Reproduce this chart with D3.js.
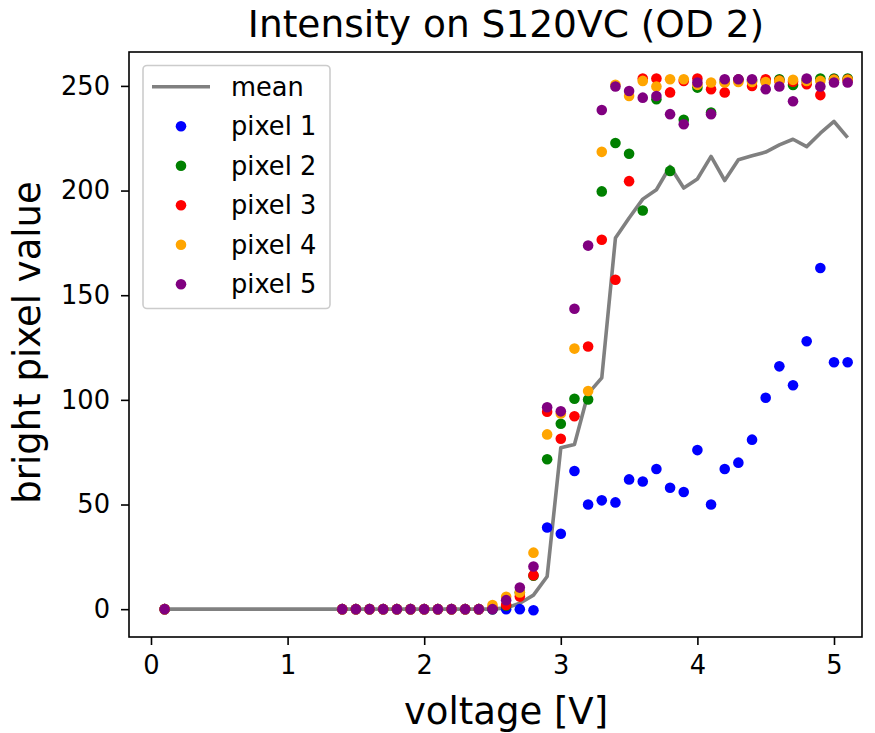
<!DOCTYPE html>
<html>
<head>
<meta charset="utf-8">
<script src="https://cdn.jsdelivr.net/npm/d3@7"></script>
<style>
  body { margin: 0; background: #fff; }
  svg { font-family: "DejaVu Sans", sans-serif; }
</style>
</head>
<body>
<div id="chart"></div>
<script>
// voltage steps [V]
const voltages = [0.1, 1.4, 1.5, 1.6, 1.7, 1.8, 1.9, 2.0, 2.1, 2.2, 2.3, 2.4, 2.5, 2.6, 2.7, 2.8, 2.9,
  3.0, 3.1, 3.2, 3.3, 3.4, 3.5, 3.6, 3.7, 3.8, 3.9, 4.0, 4.1, 4.2, 4.3, 4.4, 4.5, 4.6, 4.7, 4.8, 4.9, 5.0, 5.1]

const meanValues = [0, 0, 0, 0, 0, 0, 0, 0, 0, 0, 0, 0, 0, 0.6, 2.8, 6.7, 15.6,
  77.1, 78.7, 103, 110.5, 177.3, 186.9, 195.9, 200.4, 211.5, 201.2, 205.5, 216.3, 204.8, 214.7, 216.6, 218.4, 221.8, 224.5, 221, 227.4, 233, 225.3]

const pixel1 = [0, 0, 0, 0, 0, 0, 0, 0, 0, 0, 0, 0, 0, 0, 0, -0.5, 39,
  36, 66, 50, 52, 51, 62, 61, 67, 58, 56, 76, 50, 67, 70, 81, 101, 116, 107, 128, 163, 118, 118]
const pixel2 = [0, 0, 0, 0, 0, 0, 0, 0, 0, 0, 0, 0, 0, 1.6, 8, 16, 71.6,
  88.6, 100.5, 100.2, 199.6, 222.7, 217.6, 190.5, 243.6, 209.4, 233.8, 249.2, 237.3, 252, 253, 252.5, 252.5, 253.2, 250.4, 252.5, 253.5, 253.5, 253.5]
const pixel3 = [0, 0, 0, 0, 0, 0, 0, 0, 0, 0, 0, 0, 0.5, 2, 6, 16.2, 94.3,
  81.4, 92.2, 125.5, 176.5, 157.4, 204.5, 253.5, 253.5, 246.9, 252.4, 253.5, 248.4, 246.9, 253, 250, 253.2, 252.5, 252, 250.8, 245.6, 253, 253]
const pixel4 = [0, 0, 0, 0, 0, 0, 0, 0, 0, 0, 0, 0, 2, 5.9, 8, 27, 83.5,
  93.5, 124.5, 104.2, 218.5, 250.5, 245.2, 252.4, 249.7, 253.2, 253.2, 250.5, 251.6, 251.6, 251.9, 251.9, 251.9, 252.4, 252.9, 252.4, 252.4, 252.9, 252.9]
const pixel5 = [0, 0, 0, 0, 0, 0, 0, 0, 0, 0, 0, 0, 0, 4.3, 10.3, 20.4, 96.5,
  94.5, 143.5, 173.7, 238.5, 249.7, 247.6, 244.4, 245.2, 236.5, 231.7, 251.6, 236.5, 253.2, 253.2, 253.2, 248.4, 249.7, 242.7, 253.5, 249.7, 251.6, 251.6]

const seriesNames = ['pixel 1', 'pixel 2', 'pixel 3', 'pixel 4', 'pixel 5']
const seriesValues = [pixel1, pixel2, pixel3, pixel4, pixel5]
const seriesColors = ['blue', 'green', 'red', 'orange', 'purple']

const xTicks = [0, 1, 2, 3, 4, 5]
const yTicks = [0, 50, 100, 150, 200, 250]

const width = 875
const height = 733
const margin = { top: 52, right: 13, bottom: 96, left: 129 }
const tickFont = 25.7
const labelCenterX = 506 // title / xlabel sit a bit right of the axes centre in the original

const svg = d3.select('#chart').append('svg')
  .attr('width', width)
  .attr('height', height)

const x = d3.scaleLinear()
  .domain([-0.161, 5.205])
  .range([margin.left, width - margin.right])

const y = d3.scaleLinear()
  .domain([-13.3, 266.2])
  .range([height - margin.bottom, margin.top])

// mean line
const line = d3.line()
  .x((d, i) => x(voltages[i]))
  .y(d => y(d))

svg.append('path')
  .datum(meanValues)
  .attr('fill', 'none')
  .attr('stroke', '#808080')
  .attr('stroke-width', 3.6)
  .attr('stroke-linejoin', 'round')
  .attr('d', line)

// pixel scatter, purple ends up on top
seriesValues.forEach((vals, s) => {
  svg.append('g')
    .selectAll('circle')
    .data(vals)
    .enter()
    .append('circle')
    .attr('cx', (d, i) => x(voltages[i]))
    .attr('cy', d => y(d))
    .attr('r', 5.3)
    .attr('fill', seriesColors[s])
})

// axes
const xAxis = svg.append('g')
  .attr('transform', `translate(0,${height - margin.bottom})`)
  .call(d3.axisBottom(x).tickValues(xTicks).tickFormat(d3.format('d')).tickSize(8).tickSizeOuter(0).tickPadding(11))
const yAxis = svg.append('g')
  .attr('transform', `translate(${margin.left},0)`)
  .call(d3.axisLeft(y).tickValues(yTicks).tickFormat(d3.format('d')).tickSize(8).tickSizeOuter(0).tickPadding(11))

;[xAxis, yAxis].forEach(ax => {
  ax.select('.domain').remove()
  ax.selectAll('.tick line').attr('stroke', 'black').attr('stroke-width', 1.6)
  ax.selectAll('.tick text').attr('fill', 'black').attr('font-size', tickFont)
    .attr('font-family', '"DejaVu Sans", sans-serif')
})

// frame
svg.append('rect')
  .attr('x', margin.left)
  .attr('y', margin.top)
  .attr('width', width - margin.left - margin.right)
  .attr('height', height - margin.top - margin.bottom)
  .attr('fill', 'none')
  .attr('stroke', 'black')
  .attr('stroke-width', 1.6)

// title and labels
svg.append('text')
  .attr('x', labelCenterX)
  .attr('y', 37)
  .attr('text-anchor', 'middle')
  .attr('font-size', 37.5)
  .text('Intensity on S120VC (OD 2)')

svg.append('text')
  .attr('x', labelCenterX)
  .attr('y', 724)
  .attr('text-anchor', 'middle')
  .attr('font-size', 37)
  .text('voltage [V]')

svg.append('text')
  .attr('transform', `translate(40,${(margin.top + height - margin.bottom) / 2 - 2}) rotate(-90)`)
  .attr('text-anchor', 'middle')
  .attr('font-size', 37)
  .text('bright pixel value')

// legend
const legend = svg.append('g').attr('class', 'legend_wrapper')
legend.append('rect')
  .attr('x', 143)
  .attr('y', 65.5)
  .attr('width', 187)
  .attr('height', 243)
  .attr('rx', 4)
  .attr('fill', 'white')
  .attr('fill-opacity', 0.8)
  .attr('stroke', '#cccccc')
  .attr('stroke-width', 1.6)

const rowY = i => 86.7 + i * 39.5
legend.append('line')
  .attr('x1', 152).attr('x2', 210)
  .attr('y1', rowY(0)).attr('y2', rowY(0))
  .attr('stroke', '#808080')
  .attr('stroke-width', 3.6)
legend.append('text')
  .attr('x', 231)
  .attr('y', rowY(0))
  .attr('dy', '0.35em')
  .attr('font-size', tickFont)
  .text('mean')

seriesNames.forEach((name, i) => {
  legend.append('circle')
    .attr('cx', 181)
    .attr('cy', rowY(i + 1))
    .attr('r', 5.3)
    .attr('fill', seriesColors[i])
  legend.append('text')
    .attr('x', 231)
    .attr('y', rowY(i + 1))
    .attr('dy', '0.35em')
    .attr('font-size', tickFont)
    .text(name)
})
</script>
</body>
</html>
